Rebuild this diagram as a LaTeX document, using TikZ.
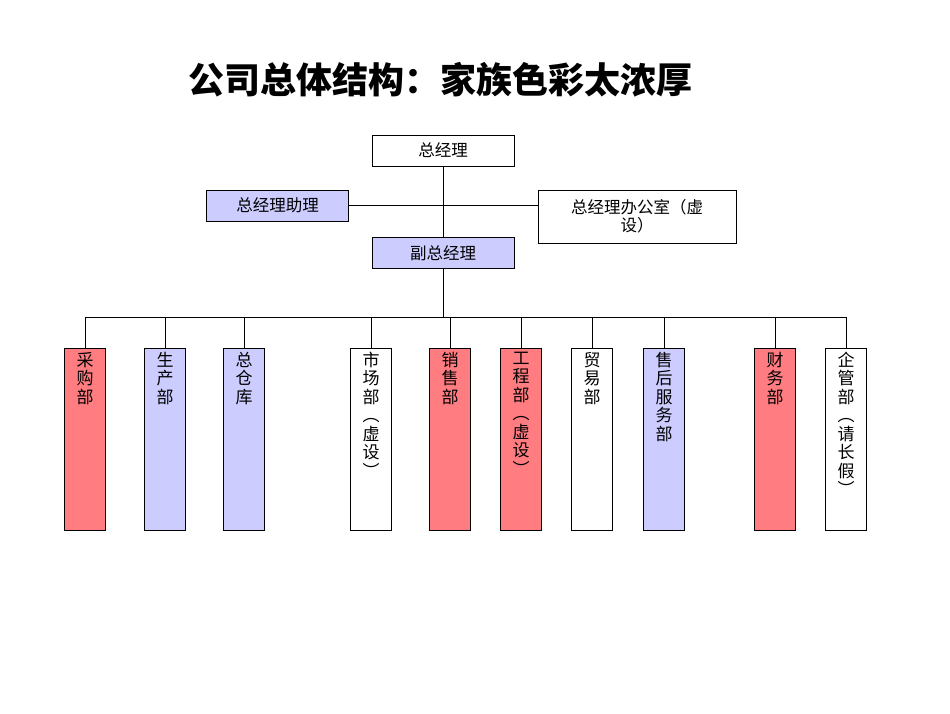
\documentclass[tikz,border=0pt]{standalone}
\usepackage{fontspec}
\setmainfont{Noto Sans CJK SC}
\usetikzlibrary{positioning}
\definecolor{deptred}{HTML}{FF7C80}
\definecolor{deptblue}{HTML}{CCCCFF}
\tikzset{
  headbox/.style={draw, minimum width=142pt, minimum height=31pt, font=\fontsize{16.5}{18}\selectfont},
  deptbox/.style={draw, minimum width=41pt, minimum height=182pt},
  depttext/.style={anchor=north, align=center, inner sep=0pt, font=\fontsize{17}{18.5}\selectfont}
}
\begin{document}
\begin{tikzpicture}[x=1pt, y=-1pt]
    \useasboundingbox (0,0) rectangle (950,713);
    % Titel
    \node[font=\bfseries\fontsize{36}{38}\selectfont] (title) at (440,80) {公司总体结构：家族色彩太浓厚};

    % Leitung
    \node[headbox] (gm) at (443,150.5) {总经理};
    \node[headbox, fill=deptblue] (assist) at (277.5,205.5) {总经理助理};
    \node[headbox, minimum width=198pt, minimum height=53pt, align=center] (office) at (637,216.5) {总经理办公室（虚\\设）};
    \node[headbox, fill=deptblue] (vgm) at (443,253) {副总经理};
    \coordinate (bus) at (443,317);

    % Linien
    \draw (gm.south) -- (vgm.north);
    \draw (assist.east) -- (assist.east -| office.west);
    \draw (vgm.south) -- (bus);

    % Abteilungen
    \foreach \x/\c/\t/\n in {85/deptred/采\\购\\部/d1, 165/deptblue/生\\产\\部/d2,
        244/deptblue/总\\仓\\库/d3, 371/white/市\\场\\部\\︵\\虚\\设\\︶/d4,
        450/deptred/销\\售\\部/d5, 521/deptred/工\\程\\部\\︵\\虚\\设\\︶/d6,
        592/white/贸\\易\\部/d7, 664/deptblue/售\\后\\服\\务\\部/d8,
        775/deptred/财\\务\\部/d9, 846/white/企\\管\\部\\︵\\请\\长\\假\\︶/d10} {
        \node[deptbox, fill=\c] (\n) at (\x,439) {};
        \node[depttext] at ([yshift=-4pt]\n.north) {\t};
        \draw (\n.north) -- (\x,317);
    }
    \draw (d1.north |- bus) -- (d10.north |- bus);
\end{tikzpicture}
\end{document}
